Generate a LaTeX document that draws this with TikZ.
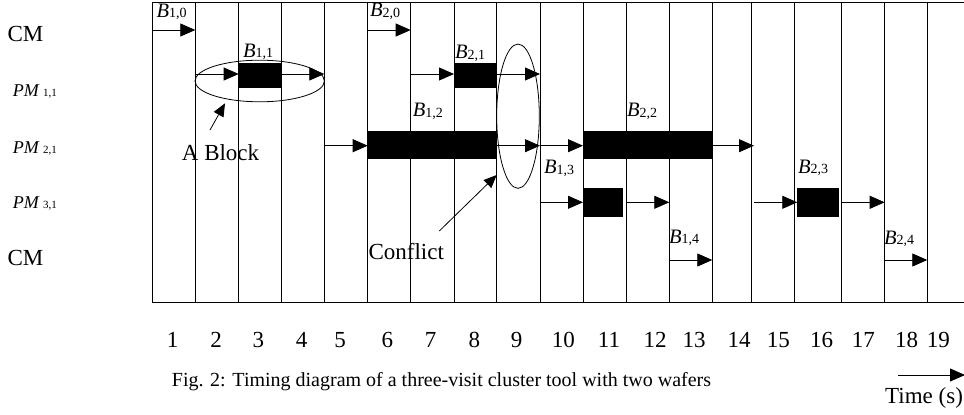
\documentclass[tikz,border=0pt]{standalone}
\usepackage{fontspec}
\setmainfont{Liberation Serif}
\usetikzlibrary{arrows.meta,shapes.geometric}

\newcommand\fsz[1]{\fontsize{#1}{#1}\selectfont}
% wafer-step label B_{i,j}
\newcommand\Blab[1]{{\fsz{20.5}\textit{B}}\raisebox{-0.8pt}{\fsz{14}#1}}
% process-module label PM_{k,1}
\newcommand\PMlab[1]{{\fsz{18}\textit{PM}}\hspace{3.5pt}{\fsz{11}#1}}

\begin{document}
\begin{tikzpicture}[x=1pt,y=-1pt,
  gridline/.style={line width=0.75pt,draw=black},
  flow/.style={line width=0.8pt,-{Triangle[length=15pt,width=13pt]}},
  pointer/.style={line width=0.8pt,-{Triangle[length=13pt,width=11pt]}},
  busy/.style={fill=black},
  lbl/.style={inner sep=0pt,anchor=base west},
  rowlbl/.style={inner sep=0pt,anchor=base west,font=\fsz{23}},
  num/.style={inner sep=0pt,anchor=base,font=\fsz{23}},
  ring/.style={draw,ellipse,line width=0.8pt,inner sep=0pt}]
\useasboundingbox (0,0) rectangle (964,415);

% time grid
\foreach \x in {152,195.3,238.7,281.7,324.3,367.7,410.7,454,496.7,540,583,
                626.3,669.3,712.3,751.7,794.3,841.3,884.7,927.3}
  \draw[gridline] (\x,2) -- (\x,302.7);
\draw[gridline] (152,2) -- (964,2);
\draw[gridline] (152,302.7) -- (964,302.7);

% row labels
\node[rowlbl] (cmtop) at (7.3,41.7) {CM};
\node[lbl] (pm1) at (12.7,96.7) {\PMlab{1,1}};
\node[lbl] (pm2) at (12.7,153.3) {\PMlab{2,1}};
\node[lbl] (pm3) at (12.7,208.3) {\PMlab{3,1}};
\node[rowlbl] (cmbot) at (7.3,265) {CM};

% processing blocks
\fill[busy] (238.7,63.3) rectangle (281.7,88.3);
\fill[busy] (454,63.3) rectangle (496.7,88.3);
\fill[busy] (367.7,130.7) rectangle (496.7,159.3);
\fill[busy] (583,130.7) rectangle (712.3,159.3);
\fill[busy] (583,187.7) rectangle (623.3,217.3);
\fill[busy] (797.3,187.7) rectangle (838.7,217.3);

% CM row (top)
\draw[flow] (152,30) -- (195.3,30);
\draw[flow] (367.7,30) -- (410.7,30);
% PM 1,1
\draw[flow] (195.3,74) -- (238.7,74);
\draw[flow] (281.7,74) -- (324.3,74);
\draw[flow] (410.7,74) -- (454,74);
\draw[flow] (496.7,74) -- (540,74);
% PM 2,1
\draw[flow] (324.3,145.7) -- (367.7,145.7);
\draw[flow] (496.7,145.7) -- (540,145.7);
\draw[flow] (540,145.7) -- (583,145.7);
\draw[flow] (712.3,145.7) -- (754,145.7);
% PM 3,1
\draw[flow] (540,202.3) -- (583,202.3);
\draw[flow] (626.3,202.3) -- (669.3,202.3);
\draw[flow] (754,202.3) -- (797.3,202.3);
\draw[flow] (841.3,202.3) -- (884.7,202.3);
% CM row (bottom)
\draw[flow] (669.3,260) -- (712.3,260);
\draw[flow] (884.7,260) -- (927.3,260);

% step labels
\node[lbl] (b10) at (156.5,17) {\Blab{1,0}};
\node[lbl] (b20) at (370,16.5) {\Blab{2,0}};
\node[lbl] (b11) at (243,57) {\Blab{1,1}};
\node[lbl] (b21) at (455,58.5) {\Blab{2,1}};
\node[lbl] (b12) at (412.7,116.7) {\Blab{1,2}};
\node[lbl] (b22) at (627,116.7) {\Blab{2,2}};
\node[lbl] (b13) at (544,173.3) {\Blab{1,3}};
\node[lbl] (b23) at (798,173) {\Blab{2,3}};
\node[lbl] (b14) at (669,243) {\Blab{1,4}};
\node[lbl] (b24) at (884,244) {\Blab{2,4}};

% annotations
\node[ring,minimum width=129.4pt,minimum height=41.6pt] (blockring) at (259.7,81) {};
\node[ring,minimum width=42.6pt,minimum height=144.3pt] (conflictring) at (518,116.2) {};
\node[rowlbl] (blocktxt) at (181.7,160.7) {A Block};
\node[rowlbl] (conflicttxt) at (368.3,259.5) {Conflict};
\coordinate (blocktail) at (210,130);
\coordinate (blocktip) at (225,103.3);
\coordinate (conflicttail) at (439.3,231);
\coordinate (conflicttip) at (496.7,175);
\draw[pointer] (blocktail) -- (blocktip);
\draw[pointer] (conflicttail) -- (conflicttip);

% time axis
\foreach \n/\x in {1/172.7,2/216,3/258.3,4/301.7,5/340,6/387.3,7/430.7,8/474.3,
                   9/516.7,10/563.3,11/609,12/655,13/694,14/739,15/778.3,
                   16/821.7,17/863.3,18/906.7,19/938.3}
  \node[num] (t\n) at (\x,347.3) {\n};

\node[lbl,font=\fsz{20}] (caption) at (171.7,386.7)
  {Fig. 2: Timing diagram of a three-visit cluster tool with two wafers};
\node[rowlbl] (timelbl) at (885,403.3) {Time (s)};
\coordinate (timestart) at (898,375);
\coordinate (timeend) at (965,375);
\draw[flow] (timestart) -- (timeend);
\end{tikzpicture}
\end{document}
